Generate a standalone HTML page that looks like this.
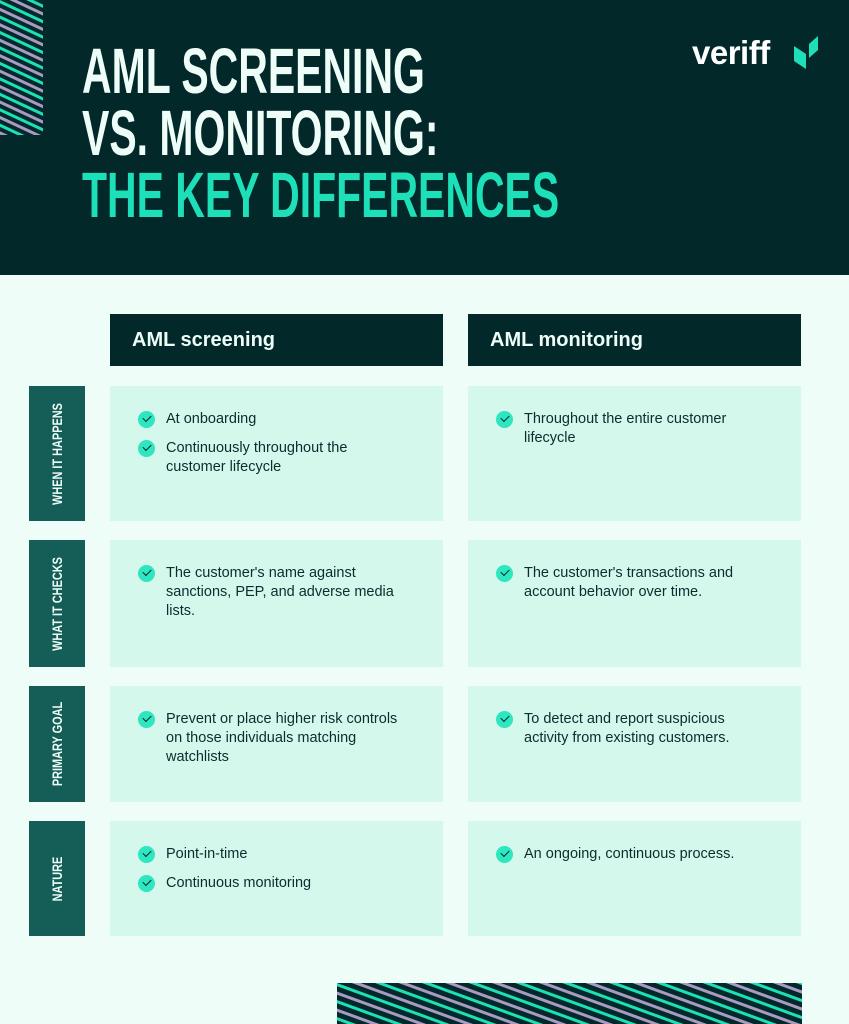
<!DOCTYPE html>
<html><head><meta charset="utf-8"><style>
*{margin:0;padding:0;box-sizing:border-box}
body{width:849px;height:1024px;background:#effdf8;font-family:"Liberation Sans",sans-serif;position:relative;overflow:hidden}
.hdr{position:absolute;left:0;top:0;width:849px;height:275px;background:#02282a}
.t{position:absolute;left:82px;font-family:"Liberation Sans",sans-serif;font-weight:bold;font-size:64px;line-height:62px;color:#effdf8;transform-origin:0 0;white-space:nowrap;transform:scaleX(0.64)}
.ch{position:absolute;top:314px;height:52px;width:333px;background:#02282a;color:#effdf8;font-weight:bold;font-size:20px;line-height:52px;padding-left:22px}
.lbl{position:absolute;left:29px;width:56px;background:#145e57}
.lbl span{position:absolute;left:50%;top:50%;transform:translate(-50%,-50%) rotate(-90deg) scaleX(0.78);white-space:nowrap;color:#effdf8;font-weight:bold;font-size:14px}
.card{position:absolute;width:333px;background:#d5f8ec;padding:24px 20px 0 56px;color:#0e2b2d;font-size:14.5px;line-height:19px}
.card p{position:relative;margin-bottom:10px}
.card p::before{content:"";position:absolute;left:-28px;top:1px;width:17px;height:17px;border-radius:50%;background:#2ee6c0}
.card p::after{content:"";position:absolute;left:-23px;top:5px;width:7px;height:4px;border-left:1.6px solid #02282a;border-bottom:1.6px solid #02282a;transform:rotate(-45deg)}
</style></head><body>
<div class="hdr"></div>
<svg style="position:absolute;left:0;top:0" width="43" height="135"><defs><pattern id="p" width="14" height="14" patternUnits="userSpaceOnUse" patternTransform="rotate(25)"><rect width="14" height="14" fill="#02282a"/><rect y="0" width="14" height="3" fill="#1ee0b8"/><rect y="7" width="14" height="3" fill="#a99ac4"/></pattern></defs><rect width="43" height="135" fill="url(#p)"/></svg>
<div class="t" style="top:40px">AML SCREENING</div>
<div class="t" style="top:102px">VS. MONITORING:</div>
<div class="t" style="top:164px;color:#1ee0b8">THE KEY DIFFERENCES</div>
<div style="position:absolute;left:692px;top:34px;color:#fff;font-weight:bold;font-size:33px;letter-spacing:-0.5px">veriff</div>
<svg style="position:absolute;left:794px;top:36px" width="26" height="34"><polygon points="0,10 12,18 12,33 0,25" fill="#1ee0b8"/><polygon points="24,0 24,14 15,22 15,8" fill="#1ee0b8"/></svg>
<div class="ch" style="left:110px">AML screening</div>
<div class="ch" style="left:468px">AML monitoring</div>
<div class="lbl" style="top:386px;height:135px"><span>WHEN IT HAPPENS</span></div>
<div class="lbl" style="top:540px;height:127px"><span>WHAT IT CHECKS</span></div>
<div class="lbl" style="top:686px;height:116px"><span>PRIMARY GOAL</span></div>
<div class="lbl" style="top:821px;height:115px"><span>NATURE</span></div>
<div class="card" style="left:110px;top:386px;height:135px"><p>At onboarding</p><p>Continuously throughout the<br>customer lifecycle</p></div>
<div class="card" style="left:468px;top:386px;height:135px"><p>Throughout the entire customer<br>lifecycle</p></div>
<div class="card" style="left:110px;top:540px;height:127px"><p>The customer's name against<br>sanctions, PEP, and adverse media<br>lists.</p></div>
<div class="card" style="left:468px;top:540px;height:127px"><p>The customer's transactions and<br>account behavior over time.</p></div>
<div class="card" style="left:110px;top:686px;height:116px"><p>Prevent or place higher risk controls<br>on those individuals matching<br>watchlists</p></div>
<div class="card" style="left:468px;top:686px;height:116px"><p>To detect and report suspicious<br>activity from existing customers.</p></div>
<div class="card" style="left:110px;top:821px;height:115px"><p>Point-in-time</p><p>Continuous monitoring</p></div>
<div class="card" style="left:468px;top:821px;height:115px"><p>An ongoing, continuous process.</p></div>
<svg style="position:absolute;left:337px;top:983px" width="465" height="41"><defs><pattern id="q" width="16" height="16" patternUnits="userSpaceOnUse" patternTransform="rotate(20)"><rect width="16" height="16" fill="#02282a"/><rect y="0" width="16" height="3" fill="#1ee0b8"/><rect y="8" width="16" height="3" fill="#a99ac4"/></pattern></defs><rect width="465" height="41" fill="url(#q)"/></svg>
</body></html>
